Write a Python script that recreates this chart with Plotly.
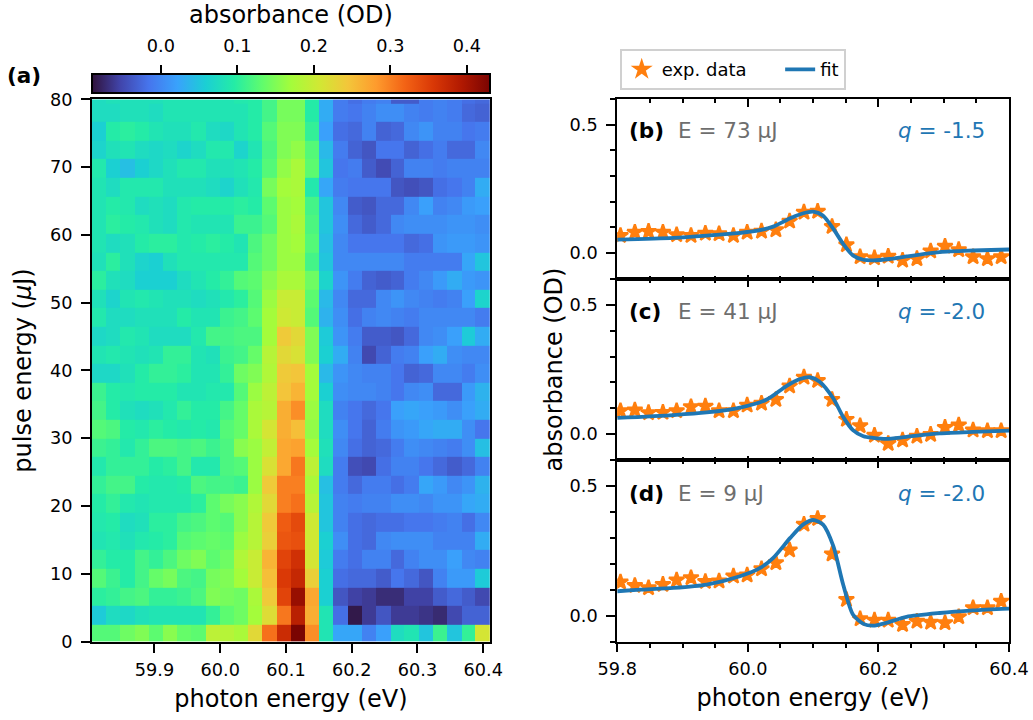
import plotly.graph_objects as go

PAGE_W, PAGE_H = 1033, 720
AXIS_RIGHT = 1009.5
MR = 50.5   # generous right margin; the figure overhangs the page by a little
W, H = int(AXIS_RIGHT + MR), PAGE_H
ML, MT, MB = 92, 73, 74
YSHIFT = 1.5
def fx(p): return (p - ML) / (W - ML - MR)
def fy(p): return 1 - (p + YSHIFT - MT) / (H - MT - MB)

# pulse energy row edges (uJ) and photon-energy column edges (eV)
pulse_edges = [0, 2.5, 5.25, 8.0, 10.74, 13.49, 16.24, 18.98, 21.73, 24.48, 27.22, 29.97, 32.72, 35.46, 38.21, 40.96,
               43.7, 46.45, 49.2, 51.94, 54.69, 57.44, 60.18, 62.93, 65.68, 68.42, 71.17, 73.92, 76.66, 79.41, 82.16]
energy_edges = [59.805, 59.827, 59.848, 59.87, 59.891, 59.913, 59.935, 59.956, 59.978, 59.999, 60.021, 60.043, 60.064,
                60.086, 60.107, 60.129, 60.151, 60.172, 60.194, 60.215, 60.237, 60.259, 60.28, 60.302, 60.323, 60.345,
                60.367, 60.388, 60.41]

# absorbance map, bottom row first
r00 = [.125,.125,.14,.15,.13,.155,.135,.13,.19,.185,.175,.225,.31,.37,.43,.29,.085,.025,.025,-.005,.02,.075,.085,.05,.11,.05,.105,.21]
r01 = [.055,.075,.07,.08,.085,.085,.085,.085,.105,.13,.14,.17,.22,.305,.385,.265,.085,-.02,-.085,-.06,-.04,-.06,-.06,-.065,-.072,-.05,-.03,-.03]
r02 = [.1,.105,.115,.12,.105,.105,.11,.12,.15,.145,.14,.175,.24,.345,.41,.27,.06,-.04,-.055,-.06,-.07,-.07,-.055,-.055,-.035,-.025,-.035,-.05]
r03 = [.125,.11,.095,.115,.135,.145,.12,.115,.145,.15,.17,.2,.25,.355,.375,.235,.06,-.02,-.025,-.025,-.035,-.015,-.025,-.04,-.005,.015,.015,.055]
r04 = [.105,.095,.095,.115,.105,.12,.14,.15,.13,.14,.18,.2,.26,.345,.365,.21,.055,-.01,-.02,-.005,-.005,-.025,-.005,.005,.005,.02,0,-.005]
r05 = [.085,.09,.08,.09,.095,.1,.125,.13,.135,.13,.165,.185,.235,.33,.335,.205,.06,.005,-.02,-.025,0,.005,.005,.005,-.005,-.005,-.005,.03]
r06 = [.09,.095,.075,.08,.1,.1,.115,.12,.13,.125,.155,.185,.24,.325,.34,.205,.05,-.005,-.02,-.025,-.02,-.02,-.015,-.015,-.01,-.005,-.02,0]
r07 = [.095,.105,.09,.085,.09,.09,.09,.1,.13,.145,.155,.18,.225,.3,.31,.185,.05,-.005,-.01,-.005,-.005,.005,.005,0,.01,.01,.025,.03]
r08 = [.105,.115,.115,.095,.09,.09,.095,.12,.115,.115,.11,.165,.24,.3,.3,.175,.045,-.01,-.025,-.01,-.01,-.02,-.01,.025,.015,0,.01,.035]
r09 = [.09,.105,.105,.105,.095,.1,.115,.09,.09,.12,.125,.165,.215,.27,.305,.19,.075,-.01,-.045,-.05,-.02,-.005,-.005,-.015,-.025,-.035,-.025,-.005]
r10 = [.11,.105,.09,.105,.12,.12,.115,.12,.11,.12,.155,.165,.195,.27,.275,.17,.08,0,-.02,-.03,-.025,-.01,.005,0,-.005,-.01,.005,.045]
r11 = [.125,.12,.095,.09,.1,.095,.09,.095,.09,.125,.135,.175,.21,.265,.25,.16,.075,.005,-.015,-.03,-.01,.01,.015,.025,.03,.03,.005,-.015]
r12 = [.115,.095,.08,.075,.08,.09,.105,.095,.095,.115,.135,.175,.185,.265,.29,.165,.075,-.005,-.015,-.025,-.015,.02,.025,.02,.015,.005,.02,.03]
r13 = [.11,.095,.09,.095,.095,.095,.085,.085,.09,.09,.125,.165,.19,.245,.26,.17,.06,.005,0,0,-.005,-.015,0,.005,-.025,-.025,.015,.035]
r14 = [.07,.07,.08,.095,.105,.105,.1,.085,.085,.105,.14,.15,.18,.24,.245,.17,.04,.01,0,-.005,-.005,-.015,-.03,-.025,0,0,-.01,.005]
r15 = [.085,.09,.085,.08,.085,.105,.105,.085,.08,.11,.115,.135,.185,.225,.215,.15,.06,.03,-.005,-.05,-.03,-.01,-.005,.02,.03,.005,0,0]
r16 = [.07,.075,.09,.085,.075,.075,.075,.09,.115,.115,.12,.12,.17,.24,.225,.15,.055,.01,-.01,-.035,-.035,-.04,-.025,0,.005,.02,.055,.03]
r17 = [.09,.075,.075,.08,.08,.08,.095,.085,.085,.11,.115,.13,.17,.205,.2,.125,.035,.005,-.02,-.005,0,-.005,-.01,0,0,0,0,-.01]
r18 = [.08,.065,.085,.09,.085,.08,.08,.075,.08,.09,.1,.125,.165,.2,.2,.13,.04,0,-.025,-.025,0,.01,0,-.005,-.01,-.005,.02,.065]
r19 = [.1,.08,.075,.06,.06,.06,.075,.085,.095,.105,.125,.13,.155,.175,.175,.14,.065,.01,-.01,-.03,-.035,-.03,-.01,0,.015,.03,.015,.01]
r20 = [.08,.1,.08,.065,.06,.08,.09,.09,.09,.09,.09,.125,.14,.165,.165,.115,.05,0,0,0,0,0,-.01,-.01,-.01,-.01,.025,.05]
r21 = [.085,.075,.08,.095,.1,.1,.09,.095,.1,.095,.085,.12,.14,.165,.17,.125,.045,0,-.015,-.015,-.015,-.015,-.025,-.02,.01,.015,.015,.01]
r22 = [.085,.1,.095,.09,.08,.075,.09,.085,.085,.085,.11,.11,.125,.165,.175,.12,.05,.005,-.025,-.035,-.025,0,.005,.005,.005,.01,.01,.005]
r23 = [.085,.095,.09,.075,.08,.075,.09,.095,.095,.095,.1,.095,.13,.165,.17,.115,.05,0,-.035,-.04,-.025,-.025,0,.02,-.005,0,.015,.02]
r24 = [.085,.075,.09,.09,.09,.08,.08,.08,.075,.065,.08,.09,.145,.17,.175,.09,.025,-.01,-.015,-.015,-.015,-.04,-.045,-.04,-.02,-.015,-.005,.03]
r25 = [.09,.06,.045,.06,.07,.08,.09,.09,.08,.08,.085,.095,.125,.16,.175,.13,.05,-.015,-.01,-.035,-.048,-.03,-.005,-.005,-.01,-.005,-.005,-.005]
r26 = [.065,.08,.085,.075,.07,.075,.065,.075,.09,.09,.065,.085,.12,.15,.16,.125,.04,-.01,-.03,-.04,-.015,-.015,-.03,-.02,-.01,-.025,-.025,0]
r27 = [.06,.095,.1,.095,.085,.08,.08,.09,.075,.07,.085,.095,.125,.15,.15,.105,.02,-.02,-.025,-.005,-.03,-.025,0,.01,-.005,-.005,-.015,-.01]
r28 = [.075,.075,.08,.08,.075,.085,.085,.085,.085,.085,.085,.095,.115,.145,.145,.095,.03,-.01,-.015,-.005,.005,.005,-.005,-.01,-.005,-.01,-.025,-.03]
r29 = [.075,.08,.08,.08,.08,.085,.085,.085,.085,.085,.09,.095,.115,.145,.145,.095,.03,-.01,-.02,-.01,-.005,-.035,-.035,-.01,-.005,-.01,-.02,-.025]
absorbance_map = [r00,r01,r02,r03,r04,r05,r06,r07,r08,r09,r10,r11,r12,r13,r14,r15,r16,r17,r18,r19,r20,r21,r22,r23,r24,r25,r26,r27,r28,r29]

# line-out stars (same energy grid as the map's left edges)
star_energy = energy_edges[:28]
stars_b = [.068,.081,.084,.081,.071,.068,.077,.075,.068,.081,.085,.09,.124,.159,.162,.103,.032,-.015,-.019,-.013,-.028,-.022,.008,.026,.013,-.015,-.022,-.015]
stars_c = [.09,.093,.083,.084,.09,.106,.108,.09,.09,.112,.119,.134,.186,.22,.207,.134,.057,.032,-.004,-.036,-.023,-.008,-.001,.026,.035,.016,.013,.013]
stars_d = [.129,.116,.107,.12,.137,.146,.131,.133,.152,.156,.18,.204,.253,.352,.374,.237,.062,-.013,-.018,-.018,-.035,-.022,-.026,-.028,-.005,.03,.03,.055]

# fitted curves
fit_b_x = [59.8,59.886,59.937,59.988,60.01,60.04,60.059,60.072,60.085,60.1,60.115,60.131,60.146,60.161,60.177,60.192,60.217,60.243,60.294,60.345,60.4]
fit_b_y = [.052,.059,.068,.079,.085,.104,.128,.143,.155,.161,.146,.094,.036,-.009,-.026,-.028,-.023,-.013,.004,.01,.014]
fit_c_x = [59.8,59.886,59.937,59.988,60.029,60.059,60.08,60.095,60.11,60.131,60.146,60.161,60.177,60.192,60.212,60.243,60.294,60.345,60.4]
fit_c_y = [.063,.074,.084,.103,.134,.186,.213,.22,.203,.138,.067,.016,-.008,-.014,-.018,-.01,.003,.009,.014]
fit_d_x = [59.8,59.835,59.886,59.937,59.988,60.019,60.039,60.065,60.085,60.1,60.115,60.131,60.146,60.161,60.177,60.192,60.212,60.243,60.294,60.345,60.4]
fit_d_y = [.094,.1,.107,.12,.152,.184,.223,.3,.352,.369,.352,.268,.12,.004,-.032,-.039,-.028,-.005,.01,.02,.027]

energy_ticks_a = [59.9, 60.0, 60.1, 60.2, 60.3, 60.4]
pulse_ticks = [0, 10, 20, 30, 40, 50, 60, 70, 80]
cbar_ticks = [0.0, 0.1, 0.2, 0.3, 0.4]
cbar_range = [-0.09, 0.43]

ORANGE, BLUE, GREY = "#ff7f0e", "#1f77b4", "#6e6e6e"
FONT = "DejaVu Sans"
TICK = 17.7
LABEL = 24
TEXT = 21.5

fig = go.Figure()

fig.add_trace(go.Heatmap(x=energy_edges, y=pulse_edges, z=absorbance_map, coloraxis="coloraxis",
                         xaxis="x", yaxis="y", zsmooth=False, showscale=True))
# carries the colour-bar tick axis above the bar
fig.add_trace(go.Scatter(x=cbar_range, y=[0, 0], mode="markers", marker=dict(opacity=0), showlegend=False,
                         hoverinfo="skip", xaxis="x5", yaxis="y5"))

panels = [(2, 6, stars_b, fit_b_x, fit_b_y, True),
          (3, 7, stars_c, fit_c_x, fit_c_y, False),
          (4, 8, stars_d, fit_d_x, fit_d_y, False)]
for i, top_i, st, fx_, fy_, leg in panels:
    fig.add_trace(go.Scatter(x=star_energy, y=st, mode="markers", name="exp. data\u00a0\u00a0\u00a0\u00a0\u00a0", showlegend=leg,
                             xaxis=f"x{i}", yaxis=f"y{i}",
                             marker=dict(symbol="star", size=11.5, color=ORANGE, line=dict(width=2.2, color=ORANGE))))
    fig.add_trace(go.Scatter(x=fx_, y=fy_, mode="lines", name="fit", showlegend=leg,
                             xaxis=f"x{i}", yaxis=f"y{i}", line=dict(color=BLUE, width=3.8, shape="spline", smoothing=0.7)))
    # carries the inward ticks along the panel's top edge
    fig.add_trace(go.Scatter(x=[59.8, 60.4], y=[0, 0], mode="markers", marker=dict(opacity=0), showlegend=False,
                             hoverinfo="skip", xaxis=f"x{top_i}", yaxis=f"y{i}"))

spine = dict(showline=True, linecolor="black", linewidth=2, mirror=True, zeroline=False, showgrid=False)
ticks = dict(ticks="outside", tickcolor="black", tickwidth=2, ticklen=9,
             tickfont=dict(family=FONT, size=TICK, color="black"))

layout = dict(
    width=W, height=H, autosize=False, margin=dict(l=ML, r=MR, t=MT, b=MB),
    paper_bgcolor="white", plot_bgcolor="white", font=dict(family=FONT, color="black"),
    coloraxis=dict(colorscale="Turbo", cmin=cbar_range[0], cmax=cbar_range[1],
                   colorbar=dict(orientation="h", xref="paper", yref="paper", xanchor="left", yanchor="bottom",
                                 x=fx(92), y=fy(94), len=398, lenmode="pixels", thickness=19, thicknessmode="pixels",
                                 outlinecolor="black", outlinewidth=2, ticks="", showticklabels=False, xpad=0, ypad=0)),
    legend=dict(orientation="h", x=fx(620), y=fy(47.5), xanchor="left", yanchor="top", bgcolor="white",
                bordercolor="#d0d0d0", borderwidth=2, font=dict(family=FONT, size=18), traceorder="normal"),
    xaxis=dict(domain=[fx(92), fx(490)], range=[59.805, 60.41], tickvals=energy_ticks_a, tickformat=".1f", ticklabelstandoff=2,
               title=dict(text="photon energy (eV)", font=dict(size=LABEL), standoff=11), **spine, **ticks),
    yaxis=dict(domain=[fy(642), fy(98)], range=[0, 80], tickvals=pulse_ticks, ticklabelstandoff=5,
               title=dict(text="pulse energy (<i>µ</i>J)", font=dict(size=LABEL), standoff=12), **spine, **ticks),
    # tick scale of the colour bar, drawn above it
    xaxis5=dict(domain=[fx(92), fx(490)], range=cbar_range, side="top", anchor="y5", tickvals=cbar_ticks,
                tickformat=".1f", ticklabelstandoff=6, title=dict(text="absorbance (OD)", font=dict(size=LABEL), standoff=5),
                showline=False, zeroline=False, showgrid=False, **ticks),
    yaxis5=dict(domain=[fy(74.5), fy(73.5)], visible=False, anchor="x5"),
)

panel_px = [(97.5, 278), (278, 460), (460, 642)]
for i, top_i, (top, bot) in zip((2, 3, 4), (6, 7, 8), panel_px):
    x_extra = dict(title=dict(text="photon energy (eV)", font=dict(size=LABEL), standoff=11), ticklabelstandoff=2) if i == 4 else {}
    tk = dict(ticks)
    side_ticks = "outside" if i == 4 else "inside"
    tk["ticks"] = side_ticks
    tk["ticklen"] = 8 if i == 4 else 4
    layout[f"xaxis{i}"] = dict(domain=[fx(617.5), fx(1009.5)], range=[59.8, 60.4], anchor=f"y{i}",
                               tick0=59.8, dtick=0.2, tickformat=".1f", showticklabels=(i == 4),
                               minor=dict(dtick=0.05, tick0=59.8, ticks=side_ticks, ticklen=4 if i == 4 else 3,
                                          tickcolor="black", tickwidth=1.5),
                               **spine, **tk, **x_extra)
    layout[f"xaxis{top_i}"] = dict(domain=[fx(617.5), fx(1009.5)], range=[59.8, 60.4], anchor=f"y{i}", side="top",
                                   overlaying=f"x{i}", tick0=59.8, dtick=0.2, showticklabels=False, ticks="inside",
                                   ticklen=8, tickwidth=2, tickcolor="black", showgrid=False, zeroline=False,
                                   minor=dict(dtick=0.05, tick0=59.8, ticks="inside", ticklen=4, tickcolor="black", tickwidth=1.5))
    y_extra = dict(title=dict(text="absorbance (OD)", font=dict(size=LABEL), standoff=0)) if i == 3 else {}
    layout[f"yaxis{i}"] = dict(domain=[fy(bot), fy(top)], range=[-0.1, 0.6], anchor=f"x{i}",
                               tick0=0, dtick=0.5, tickformat=".1f", ticklabelstandoff=5,
                               minor=dict(dtick=0.1, tick0=0, ticks="outside", ticklen=5, tickcolor="black", tickwidth=1.5),
                               **spine, **ticks, **y_extra)

def note(px, py, text, color="black", size=TEXT, xanchor="left"):
    return dict(xref="paper", yref="paper", x=fx(px), y=fy(py), text=text, showarrow=False, xanchor=xanchor,
                yanchor="middle", font=dict(family=FONT, size=size, color=color))

layout["annotations"] = [
    note(5, 74, "<b>(a)</b>"),
    note(627, 129, "<b>(b)</b>"), note(676, 129, "E = 73 µJ", GREY), note(987, 129, "<i>q</i> = -1.5", BLUE, xanchor="right"),
    note(627, 311, "<b>(c)</b>"), note(676, 311, "E = 41 µJ", GREY), note(987, 311, "<i>q</i> = -2.0", BLUE, xanchor="right"),
    note(627, 493, "<b>(d)</b>"), note(676, 493, "E = 9 µJ", GREY), note(987, 493, "<i>q</i> = -2.0", BLUE, xanchor="right"),
]
fig.update_layout(**layout)
fig.write_html("out.html", config={"displayModeBar": False},
               post_script="document.body.style.margin='0';document.body.style.overflow='hidden';")
